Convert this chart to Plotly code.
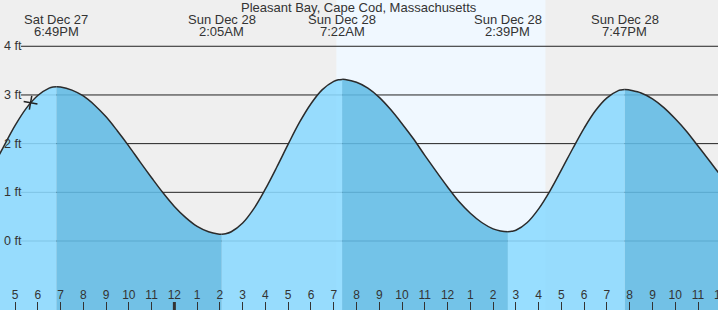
import plotly.graph_objects as go
import pandas as pd

# ---------------- data ----------------
title_text = "Pleasant Bay, Cape Cod, Massachusetts"

tide_times = [
    "2025-12-27 16:00", "2025-12-27 16:30", "2025-12-27 17:00", "2025-12-27 17:30",
    "2025-12-27 18:00", "2025-12-27 18:30", "2025-12-27 18:40", "2025-12-27 18:49",
    "2025-12-27 19:00", "2025-12-27 19:30", "2025-12-27 20:00", "2025-12-27 20:30",
    "2025-12-27 21:00", "2025-12-27 21:30", "2025-12-27 22:00", "2025-12-27 22:30",
    "2025-12-27 23:00", "2025-12-27 23:30", "2025-12-28 00:00", "2025-12-28 00:30",
    "2025-12-28 01:00", "2025-12-28 01:30", "2025-12-28 01:55", "2025-12-28 02:05",
    "2025-12-28 02:15", "2025-12-28 02:30", "2025-12-28 03:00", "2025-12-28 03:30",
    "2025-12-28 04:00", "2025-12-28 04:30", "2025-12-28 05:00", "2025-12-28 05:30",
    "2025-12-28 06:00", "2025-12-28 06:30", "2025-12-28 07:00", "2025-12-28 07:12",
    "2025-12-28 07:22", "2025-12-28 07:30", "2025-12-28 08:00", "2025-12-28 08:30",
    "2025-12-28 09:00", "2025-12-28 09:30", "2025-12-28 10:00", "2025-12-28 10:30",
    "2025-12-28 11:00", "2025-12-28 11:30", "2025-12-28 12:00", "2025-12-28 12:30",
    "2025-12-28 13:00", "2025-12-28 13:30", "2025-12-28 14:00", "2025-12-28 14:20",
    "2025-12-28 14:29", "2025-12-28 14:39", "2025-12-28 14:49", "2025-12-28 15:00",
    "2025-12-28 15:30", "2025-12-28 16:00", "2025-12-28 16:30", "2025-12-28 17:00",
    "2025-12-28 17:30", "2025-12-28 18:00", "2025-12-28 18:30", "2025-12-28 19:00",
    "2025-12-28 19:30", "2025-12-28 19:37", "2025-12-28 19:47", "2025-12-28 19:57",
    "2025-12-28 20:00", "2025-12-28 20:30", "2025-12-28 21:00", "2025-12-28 21:30",
    "2025-12-28 22:00", "2025-12-28 22:30", "2025-12-28 23:00", "2025-12-28 23:30",
    "2025-12-29 00:00",
]
tide_ft = [
    1.49, 1.94, 2.37, 2.73,
    2.99, 3.14, 3.164, 3.17,
    3.165, 3.10, 2.98, 2.79,
    2.55, 2.26, 1.95, 1.62,
    1.30, 0.99, 0.71, 0.48,
    0.30, 0.19, 0.144, 0.14,
    0.148, 0.19, 0.37, 0.67,
    1.07, 1.52, 1.99, 2.44,
    2.82, 3.11, 3.28, 3.312,
    3.32, 3.317, 3.26, 3.14,
    2.95, 2.70, 2.41, 2.10,
    1.76, 1.43, 1.11, 0.81,
    0.57, 0.38, 0.25, 0.205,
    0.194, 0.19, 0.198, 0.22,
    0.38, 0.66, 1.03, 1.46,
    1.90, 2.32, 2.68, 2.94,
    3.09, 3.102, 3.11, 3.106,
    3.10, 3.04, 2.92, 2.74,
    2.51, 2.25, 1.95, 1.65,
    1.34,
]

ext_times = ["2025-12-27 18:49", "2025-12-28 02:05", "2025-12-28 07:22",
             "2025-12-28 14:39", "2025-12-28 19:47"]
ext_days = ["Sat Dec 27", "Sun Dec 28", "Sun Dec 28", "Sun Dec 28", "Sun Dec 28"]
ext_clock = ["6:49PM", "2:05AM", "7:22AM", "2:39PM", "7:47PM"]

sunrise = "2025-12-28 07:07"
sunset = "2025-12-28 16:18"

now_time = "2025-12-27 17:41"
now_ft = 2.84

y_grid = [0, 1, 2, 3, 4]
y_grid_labels = ["0 ft", "1 ft", "2 ft", "3 ft", "4 ft"]

hour_ticks = pd.date_range("2025-12-27 17:00", "2025-12-29 00:00", freq="h")
hour_labels = [str((t.hour % 12) or 12) for t in hour_ticks]
midnight = "2025-12-28 00:00"

# ---------------- styling ----------------
W, H = 718, 310
px_per_hour = 22.767
x0 = pd.Timestamp("2025-12-27 17:00") - pd.Timedelta(hours=15 / px_per_hour)
x1 = x0 + pd.Timedelta(hours=W / px_per_hour)
px_per_ft = 48.68
y_zero_px = 241.0
y_top = y_zero_px / px_per_ft
y_bot = -(H - y_zero_px) / px_per_ft

FONT = "Liberation Sans, Arial, sans-serif"
TXT = "#333333"
BG = "#efefef"
DAY = "#f0f8ff"
LIGHT = "rgba(139,217,255,0.88)"
DARK = "rgba(97,187,229,0.88)"

fig = go.Figure()

# split curve into segments between extremes (rising = light, falling = dark)
times = pd.to_datetime(tide_times)
ext_ts = pd.to_datetime(ext_times)
idx_ext = [list(times).index(t) for t in ext_ts]
bounds = [0] + idx_ext + [len(times) - 1]
base_val = y_bot - 0.5
for k in range(len(bounds) - 1):
    a, b = bounds[k], bounds[k + 1]
    seg_t = times[a:b + 1]
    seg_v = tide_ft[a:b + 1]
    rising = seg_v[-1] > seg_v[0]
    fig.add_trace(go.Scatter(x=seg_t, y=[base_val] * len(seg_t), mode="lines",
                             line=dict(width=0), hoverinfo="skip", showlegend=False))
    fig.add_trace(go.Scatter(x=seg_t, y=seg_v, mode="lines", fill="tonexty",
                             fillcolor=LIGHT if rising else DARK,
                             line=dict(color="#2b2b2b", width=1.5, shape="spline", smoothing=1.0),
                             hoverinfo="skip", showlegend=False))

# current-time marker
fig.add_trace(go.Scatter(x=[now_time], y=[now_ft], mode="markers",
                         marker=dict(symbol="cross-thin", size=10, angle=10,
                                     line=dict(width=1.5, color="#222222")),
                         hoverinfo="skip", showlegend=False))

# hour labels
hour_label_y = (y_zero_px - 296) / px_per_ft
fig.add_trace(go.Scatter(x=hour_ticks, y=[hour_label_y] * len(hour_ticks), mode="text",
                         text=hour_labels, textposition="middle center",
                         textfont=dict(family=FONT, size=12, color=TXT),
                         cliponaxis=True, hoverinfo="skip", showlegend=False))

shapes = [
    dict(type="rect", xref="x", yref="paper", x0=sunrise, x1=sunset, y0=0, y1=1,
         fillcolor=DAY, line=dict(width=0), layer="below"),
]
for g in y_grid:
    shapes.append(dict(type="line", xref="paper", yref="y", x0=21 / W, x1=1, y0=g, y1=g,
                       line=dict(color="#222222", width=1), layer="below"))
shapes.append(dict(type="line", xref="x", yref="paper", x0=midnight, x1=midnight,
                   y0=0, y1=8 / H, line=dict(color="#333333", width=3), layer="above"))

annotations = [
    dict(text=title_text, xref="paper", yref="paper", x=0.5, y=1 - 7.5 / H,
         xanchor="center", yanchor="middle", showarrow=False,
         font=dict(family=FONT, size=13, color=TXT)),
]
for g, lab in zip(y_grid, y_grid_labels):
    annotations.append(dict(text=lab, xref="paper", yref="y", x=2 / W, y=g,
                            xanchor="left", yanchor="middle", showarrow=False,
                            font=dict(family=FONT, size=12.5, color=TXT)))
for t, d, c in zip(ext_times, ext_days, ext_clock):
    annotations.append(dict(text=d, xref="x", yref="paper", x=t, y=1 - 20 / H,
                            xanchor="center", yanchor="middle", showarrow=False,
                            font=dict(family=FONT, size=13, color=TXT)))
    annotations.append(dict(text=c, xref="x", yref="paper", x=t, y=1 - 31.5 / H,
                            xanchor="center", yanchor="middle", showarrow=False,
                            font=dict(family=FONT, size=13, color=TXT)))

fig.update_layout(
    width=W, height=H, margin=dict(l=0, r=0, t=0, b=0),
    paper_bgcolor=BG, plot_bgcolor=BG,
    shapes=shapes, annotations=annotations, showlegend=False,
    xaxis=dict(type="date", range=[x0, x1], showgrid=False, zeroline=False, showline=False,
               tickmode="array", tickvals=hour_ticks, ticks="inside", ticklen=8,
               tickwidth=1, tickcolor="#333333", showticklabels=False, fixedrange=True),
    yaxis=dict(range=[y_bot, y_top], showgrid=False, zeroline=False, showline=False,
               showticklabels=False, ticks="", fixedrange=True),
)

fig.write_html("out.html")
